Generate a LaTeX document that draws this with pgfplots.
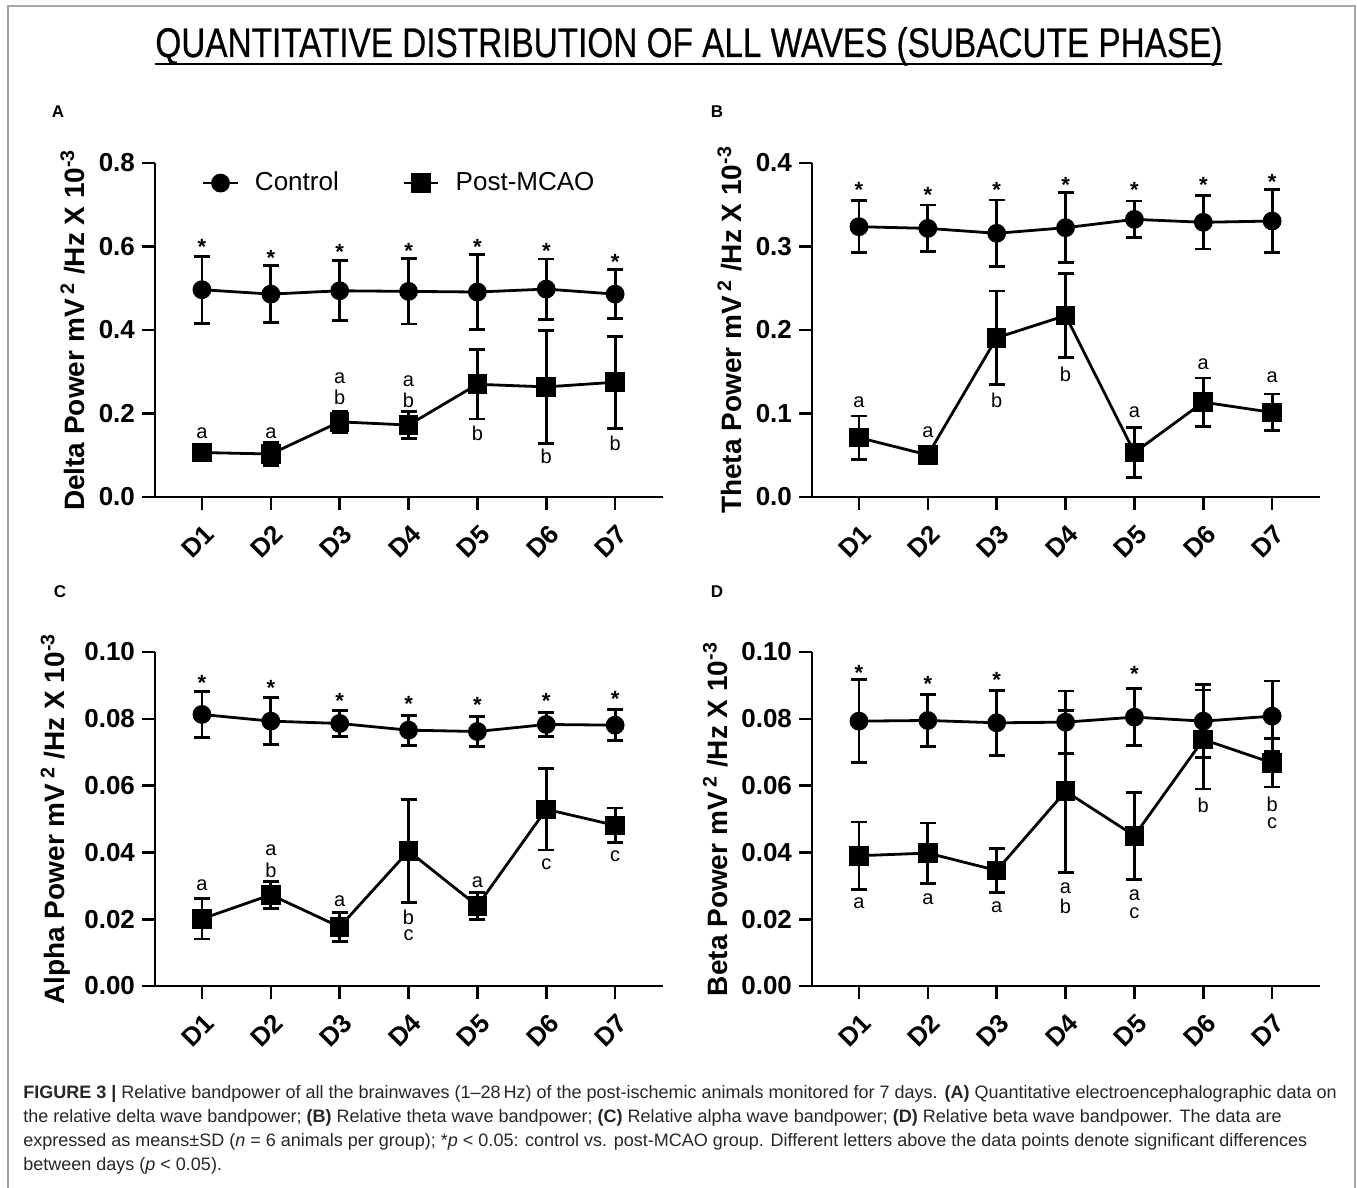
\documentclass[border=0pt]{standalone}
\usepackage{fontspec}
\setmainfont{Liberation Sans}
\newfontfamily\titlefont[FakeBold=0.6]{Liberation Sans}
\usepackage{pgfplots}
\pgfplotsset{compat=1.18}
\usepackage{pgfplotstable}

\newcommand{\fs}[1]{\fontsize{#1}{#1}\selectfont}

% mean and SD per day: control (c, ce), post-MCAO (p, pe)
\pgfplotstableread{
x c      ce     p      pe
1 0.4965 0.080  0.1065 0.012
2 0.486  0.068  0.103  0.027
3 0.494  0.072  0.180  0.025
4 0.4925 0.078  0.1724 0.032
5 0.491  0.090  0.270  0.083
6 0.498  0.072  0.2637 0.135
7 0.486  0.058  0.275  0.110
}\deltadata
\pgfplotstableread{
x c      ce     p      pe
1 0.3237 0.031  0.0711 0.026
2 0.3217 0.028  0.0504 0.006
3 0.3158 0.040  0.1907 0.056
4 0.3225 0.042  0.2173 0.050
5 0.3325 0.022  0.0532 0.030
6 0.3290 0.032  0.1136 0.029
7 0.3305 0.0375 0.1013 0.022
}\thetadata
\pgfplotstableread{
x c      ce     p      pe
1 0.0813 0.0068 0.0201 0.0060
2 0.0793 0.0070 0.0273 0.0040
3 0.0786 0.0040 0.0177 0.0043
4 0.0766 0.0045 0.0404 0.0155
5 0.0762 0.0045 0.0240 0.0040
6 0.0783 0.0036 0.0529 0.0122
7 0.0781 0.0046 0.0481 0.0052
}\alphadata
\pgfplotstableread{
x c      ce     p      pe
1 0.0793 0.0124 0.0390 0.0101
2 0.0795 0.0077 0.0398 0.0090
3 0.0788 0.0097 0.0346 0.0066
4 0.0790 0.0093 0.0583 0.0242
5 0.0805 0.0085 0.0450 0.0130
6 0.0793 0.0110 0.0738 0.0148
7 0.0808 0.0105 0.0668 0.0072
}\betadata

\tikzset{
  st/.style={font=\bfseries\fs{11}, yshift=-2pt},
  lt/.style={font=\fs{10}},
}
\pgfplotsset{
  panel/.style={
    scale only axis, width=254pt, height=167pt, anchor=south west,
    axis lines=left, axis line style={line width=1.3pt,-},
    xmin=0.318, xmax=7.695, ymin=0,
    xtick={1,2,3,4,5,6,7}, xticklabels={D1,D2,D3,D4,D5,D6,D7},
    tick align=outside, major tick length=6.5pt,
    every tick/.style={black, line width=1.3pt},
    tick label style={font=\bfseries\fs{13}},
    yticklabel style={/pgf/number format/.cd, fixed, fixed zerofill, precision=1, assume math mode=true},
    xticklabel style={rotate=45, anchor=north east, inner sep=0pt, xshift=-4pt, yshift=-5pt},
    ylabel style={font=\bfseries\fs{14}},
    clip=false,
  },
  ctrl/.style={black, line width=1.4pt, mark=*, mark size=4pt,
    error bars/.cd, y dir=both, y explicit,
    error bar style={line width=1.4pt},
    error mark options={rotate=90, mark size=4pt, line width=1.4pt}},
  post/.style={black, line width=1.4pt, mark=square*, mark size=4.2pt,
    error bars/.cd, y dir=both, y explicit,
    error bar style={line width=1.4pt},
    error mark options={rotate=90, mark size=4pt, line width=1.4pt}},
}

\begin{document}
\begin{tikzpicture}
\begin{scope}[x=0.5pt, y=-0.5pt]
\useasboundingbox (0,0) rectangle (1357,1188);
\draw[gray!70, line width=1pt] (8,1190) -- (8,6) -- (1355,6) -- (1355,1190);
\node[anchor=base west, inner sep=0pt] at (155,57)
  {\resizebox{533.5pt}{15pt}{\titlefont\fs{21}QUANTITATIVE DISTRIBUTION OF ALL WAVES (SUBACUTE PHASE)}};
\draw[line width=1.3pt] (155,64) -- (1222,64);
\node[font=\bfseries\fs{8.5}] at (58,112) {A};
\node[font=\bfseries\fs{8.5}] at (717,112) {B};
\node[font=\bfseries\fs{8.5}] at (60,592) {C};
\node[font=\bfseries\fs{8.5}] at (717,592) {D};
\begin{scope}[every node/.style={anchor=base west, inner sep=0pt, font=\fs{9}, color=black!85}]
\node at (23,1098) {\textbf{FIGURE 3 |} Relative bandpower of all the brainwaves (1–28\,Hz) of the post-ischemic animals monitored for 7 days. \textbf{(A)} Quantitative electroencephalographic data on};
\node at (23,1122) {the relative delta wave bandpower; \textbf{(B)} Relative theta wave bandpower; \textbf{(C)} Relative alpha wave bandpower; \textbf{(D)} Relative beta wave bandpower. The data are};
\node at (23,1146) {expressed as means±SD (\textit{n} = 6 animals per group); *\textit{p} < 0.05: control vs. post-MCAO group. Different letters above the data points denote significant differences};
\node at (23,1170) {between days (\textit{p} < 0.05).};
\end{scope}
\end{scope}

% A: delta
\begin{axis}[panel, at={(77.5pt,-248.5pt)}, ymax=0.8, ytick={0,0.2,0.4,0.6,0.8},
  ylabel={Delta Power mV\,\textsuperscript{2} /Hz X 10\textsuperscript{-3}},
  legend columns=2,
  legend style={draw=none, fill=none, at={(0.08,0.94)}, anchor=west, font=\fs{13},
    /tikz/every odd column/.append style={column sep=6pt},
    /tikz/every even column/.append style={column sep=30pt}}]
\addplot[ctrl] table[x=x, y=c, y error=ce] {\deltadata};
\addplot[post] table[x=x, y=p, y error=pe] {\deltadata};
\legend{Control, Post-MCAO}
\node[st] at (1,0.609) {*}; \node[st] at (2,0.583) {*}; \node[st] at (3,0.596) {*};
\node[st] at (4,0.600) {*}; \node[st] at (5,0.609) {*}; \node[st] at (6,0.600) {*};
\node[st] at (7,0.572) {*};
\node[lt] at (1,0.1525) {a}; \node[lt] at (2,0.1525) {a};
\node[lt] at (3,0.2836) {a}; \node[lt] at (3,0.2375) {b};
\node[lt] at (4,0.2773) {a}; \node[lt] at (4,0.232) {b};
\node[lt] at (5,0.1525) {b}; \node[lt] at (6,0.097) {b}; \node[lt] at (7,0.1287) {b};
\end{axis}

% B: theta
\begin{axis}[panel, at={(406pt,-248.5pt)}, ymax=0.4, ytick={0,0.1,0.2,0.3,0.4},
  ylabel={Theta Power mV\,\textsuperscript{2} /Hz X 10\textsuperscript{-3}}]
\addplot[ctrl] table[x=x, y=c, y error=ce] {\thetadata};
\addplot[post] table[x=x, y=p, y error=pe] {\thetadata};
\node[st] at (1,0.372) {*}; \node[st] at (2,0.367) {*}; \node[st] at (3,0.373) {*};
\node[st] at (4,0.379) {*}; \node[st] at (5,0.373) {*}; \node[st] at (6,0.378) {*};
\node[st] at (7,0.382) {*};
\node[lt] at (1,0.114) {a}; \node[lt] at (2,0.078) {a}; \node[lt] at (3,0.116) {b};
\node[lt] at (4,0.147) {b}; \node[lt] at (5,0.102) {a}; \node[lt] at (6,0.159) {a};
\node[lt] at (7,0.143) {a};
\end{axis}

% C: alpha
\begin{axis}[panel, at={(77.5pt,-493pt)}, ymax=0.1, ytick={0,0.02,0.04,0.06,0.08,0.1},
  yticklabel style={/pgf/number format/precision=2},
  ylabel={Alpha Power mV\,\textsuperscript{2} /Hz X 10\textsuperscript{-3}}]
\addplot[ctrl] table[x=x, y=c, y error=ce] {\alphadata};
\addplot[post] table[x=x, y=p, y error=pe] {\alphadata};
\node[st] at (1,0.0920) {*}; \node[st] at (2,0.0905) {*}; \node[st] at (3,0.0866) {*};
\node[st] at (4,0.0856) {*}; \node[st] at (5,0.0853) {*}; \node[st] at (6,0.0865) {*};
\node[st] at (7,0.0872) {*};
\node[lt] at (1,0.0301) {a};
\node[lt] at (2,0.0408) {a}; \node[lt] at (2,0.0346) {b};
\node[lt] at (3,0.0254) {a};
\node[lt] at (4,0.0205) {b}; \node[lt] at (4,0.0152) {c};
\node[lt] at (5,0.0311) {a}; \node[lt] at (6,0.0366) {c}; \node[lt] at (7,0.0388) {c};
\end{axis}

% D: beta
\begin{axis}[panel, at={(406pt,-493pt)}, ymax=0.1, ytick={0,0.02,0.04,0.06,0.08,0.1},
  yticklabel style={/pgf/number format/precision=2},
  ylabel={Beta Power mV\,\textsuperscript{2} /Hz X 10\textsuperscript{-3}}]
\addplot[ctrl] table[x=x, y=c, y error=ce] {\betadata};
\addplot[post] table[x=x, y=p, y error=pe] {\betadata};
\node[st] at (1,0.0950) {*}; \node[st] at (2,0.0915) {*}; \node[st] at (3,0.0927) {*};
\node[st] at (5,0.0947) {*};
\node[lt] at (1,0.0249) {a}; \node[lt] at (2,0.0261) {a}; \node[lt] at (3,0.0237) {a};
\node[lt] at (4,0.0294) {a}; \node[lt] at (4,0.0237) {b};
\node[lt] at (5,0.0271) {a}; \node[lt] at (5,0.0219) {c};
\node[lt] at (6,0.0540) {b};
\node[lt] at (7,0.0543) {b}; \node[lt] at (7,0.0488) {c};
\end{axis}
\end{tikzpicture}
\end{document}
